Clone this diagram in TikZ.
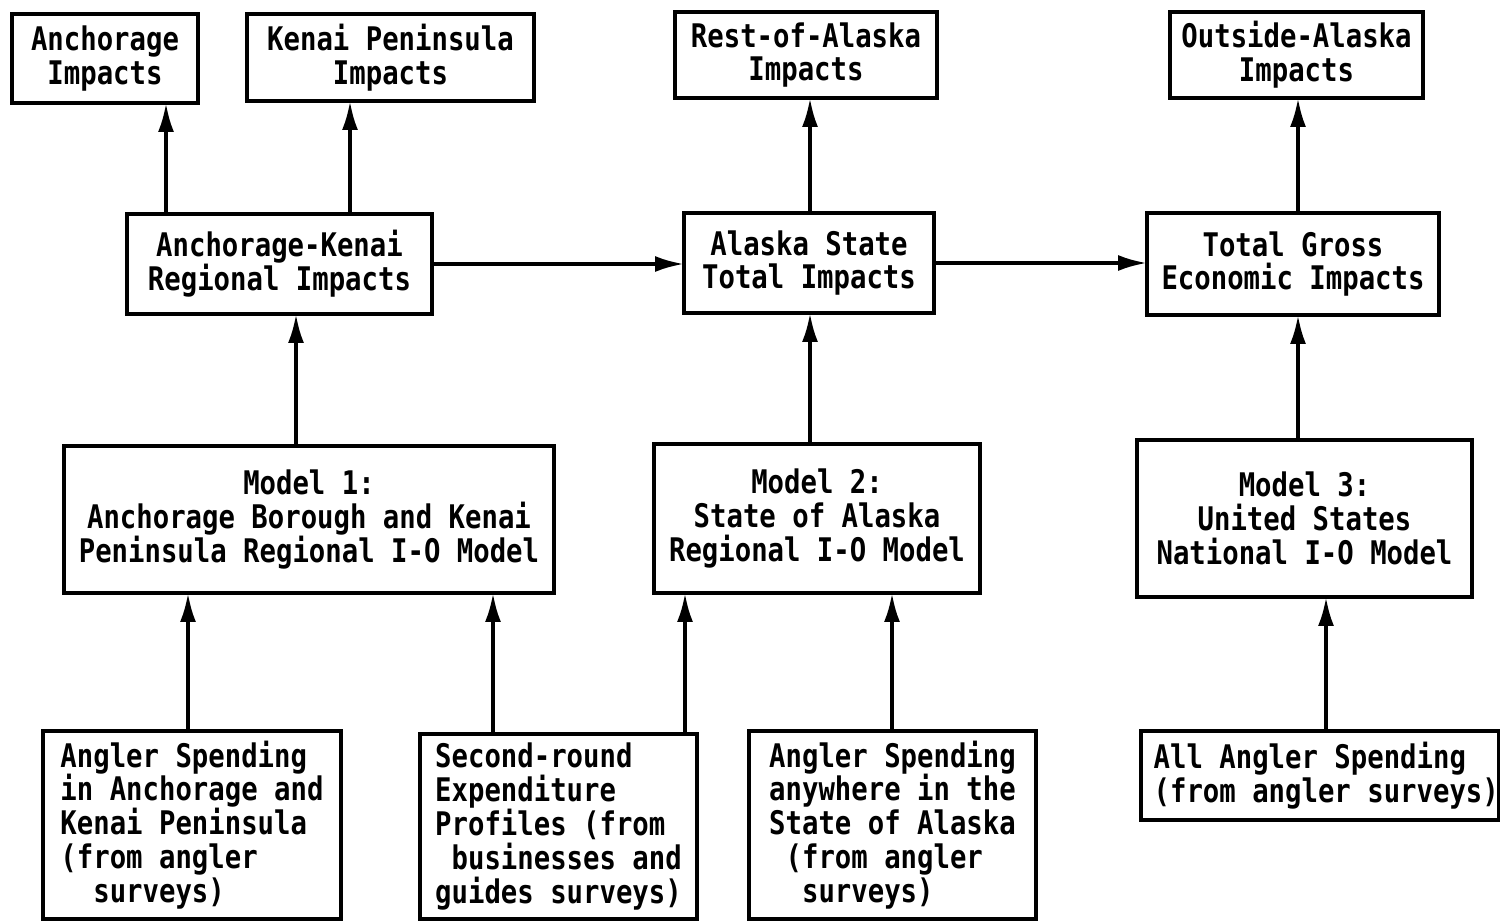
\documentclass[tikz,border=0pt]{standalone}
\usepackage{fontspec}
\usepackage{tikz}
\usetikzlibrary{arrows.meta}
\newfontfamily\typewr{DejaVu Sans Mono}[FakeStretch=0.84]

\begin{document}
\begin{tikzpicture}[x=0.02cm, y=-0.02cm,
    block/.style={draw, line width=2.1pt, inner sep=0pt, outer sep=0pt, align=center,
      font=\typewr\bfseries\fontsize{18.5}{19.3}\selectfont},
    src/.style={block, align=left},
    arr/.style={-{Latex[length=0.58cm,width=0.32cm]}, line width=2.1pt}]
   \useasboundingbox (0,0) rectangle (1500,922);

   % impacts
   \node[block, minimum width=3.72cm, minimum height=1.78cm] (anch) at (105,58.5) {Anchorage\\Impacts};
   \node[block, minimum width=5.74cm, minimum height=1.74cm] (kenai) at (390.5,57.5) {Kenai Peninsula\\Impacts};
   \node[block, minimum width=5.24cm, minimum height=1.72cm] (rest) at (806,55) {Rest-of-Alaska\\Impacts};
   \node[block, minimum width=5.06cm, minimum height=1.72cm] (outs) at (1296.5,55) {Outside-Alaska\\Impacts};

   \node[block, minimum width=6.10cm, minimum height=2.00cm] (akreg) at (279.5,264) {Anchorage-Kenai\\Regional Impacts};
   \node[block, minimum width=5.00cm, minimum height=2.00cm] (ast) at (809,263) {Alaska State\\Total Impacts};
   \node[block, minimum width=5.84cm, minimum height=2.04cm] (gross) at (1293,264) {Total Gross\\Economic Impacts};

   % models
   \node[block, minimum width=9.80cm, minimum height=2.94cm] (m1) at (309,519.5) {Model 1:\\Anchorage Borough and Kenai\\Peninsula Regional I-O Model};
   \node[block, minimum width=6.52cm, minimum height=2.98cm] (m2) at (817,518.5) {Model 2:\\State of Alaska\\Regional I-O Model};
   \node[block, minimum width=6.70cm, minimum height=3.14cm] (m3) at (1304.5,518.5) {Model 3:\\United States\\National I-O Model};

   % spending data
   \node[src, minimum width=5.96cm, minimum height=3.76cm] (s1) at (192,825) {Angler Spending\\in Anchorage and\\Kenai Peninsula\\(from angler\\\phantom{xx}surveys)};
   \node[src, minimum width=5.54cm, minimum height=3.70cm] (s2) at (558.5,826.5) {Second-round\\Expenditure\\Profiles (from\\\phantom{x}businesses and\\guides surveys)};
   \node[src, minimum width=5.74cm, minimum height=3.76cm] (s3) at (892.5,825) {Angler Spending\\anywhere in the\\State of Alaska\\\phantom{x}(from angler\\\phantom{xx}surveys)};
   \node[src, minimum width=7.08cm, minimum height=1.78cm] (s4) at (1320,775.5) {\hspace{0.25cm}All Angler Spending\\\hspace{0.25cm}(from angler surveys)};

   \coordinate (c1) at (166,0);
   \coordinate (c2) at (350,0);
   \coordinate (c3) at (296,0);
   \coordinate (c4) at (810,0);
   \coordinate (c5) at (1298,0);
   \coordinate (c6) at (188,0);
   \coordinate (c7) at (493,0);
   \coordinate (c8) at (685,0);
   \coordinate (c9) at (892,0);
   \coordinate (c10) at (1326,0);

   \draw[arr] (akreg.north -| c1) -- (anch.south -| c1);
   \draw[arr] (akreg.north -| c2) -- (kenai.south -| c2);
   \draw[arr] (ast.north -| c4) -- (rest.south -| c4);
   \draw[arr] (gross.north -| c5) -- (outs.south -| c5);
   \draw[arr] (akreg.east) -- (akreg.east -| ast.west);
   \draw[arr] (ast.east) -- (ast.east -| gross.west);
   \draw[arr] (m1.north -| c3) -- (akreg.south -| c3);
   \draw[arr] (m2.north -| c4) -- (ast.south -| c4);
   \draw[arr] (m3.north -| c5) -- (gross.south -| c5);
   \draw[arr] (s1.north -| c6) -- (m1.south -| c6);
   \draw[arr] (s2.north -| c7) -- (m1.south -| c7);
   \draw[arr] (s2.north -| c8) -- (m2.south -| c8);
   \draw[arr] (s3.north -| c9) -- (m2.south -| c9);
   \draw[arr] (s4.north -| c10) -- (m3.south -| c10);
\end{tikzpicture}
\end{document}
